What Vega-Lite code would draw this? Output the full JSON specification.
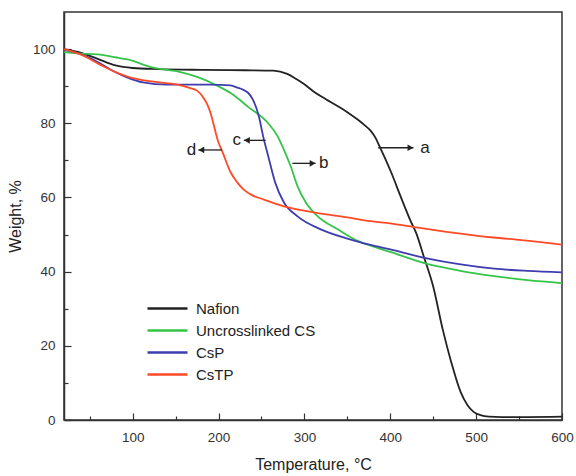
{
  "$schema": "https://vega.github.io/schema/vega-lite/v6.json",
  "width": 498,
  "height": 408,
  "autosize": {"type": "none"},
  "padding": {"left": 64, "top": 12, "right": 14, "bottom": 56},
  "background": "white",
  "config": {
    "font": "Liberation Sans",
    "view": {"stroke": "#333", "strokeWidth": 1.5},
    "axis": {"grid": false, "domainColor": "#333", "domainWidth": 1.5, "tickColor": "#333", "tickWidth": 1.2, "labelColor": "#333", "titleColor": "#222", "labelFontSize": 13.5, "titleFontSize": 16, "titleFontWeight": "normal"}
  },
  "datasets": {
    "tga": [
      {"T": 20, "W": 100, "sample": "Nafion"},
      {"T": 40, "W": 99, "sample": "Nafion"},
      {"T": 60, "W": 97.3, "sample": "Nafion"},
      {"T": 80, "W": 95.6, "sample": "Nafion"},
      {"T": 100, "W": 94.9, "sample": "Nafion"},
      {"T": 130, "W": 94.6, "sample": "Nafion"},
      {"T": 180, "W": 94.4, "sample": "Nafion"},
      {"T": 230, "W": 94.3, "sample": "Nafion"},
      {"T": 264, "W": 94.2, "sample": "Nafion"},
      {"T": 280, "W": 93.3, "sample": "Nafion"},
      {"T": 290, "W": 92, "sample": "Nafion"},
      {"T": 300, "W": 90.5, "sample": "Nafion"},
      {"T": 311, "W": 88.5, "sample": "Nafion"},
      {"T": 325, "W": 86.5, "sample": "Nafion"},
      {"T": 339, "W": 84.6, "sample": "Nafion"},
      {"T": 350, "W": 83, "sample": "Nafion"},
      {"T": 362, "W": 81, "sample": "Nafion"},
      {"T": 370, "W": 79.5, "sample": "Nafion"},
      {"T": 377, "W": 78, "sample": "Nafion"},
      {"T": 383, "W": 76, "sample": "Nafion"},
      {"T": 389, "W": 73, "sample": "Nafion"},
      {"T": 395, "W": 70, "sample": "Nafion"},
      {"T": 401, "W": 66.8, "sample": "Nafion"},
      {"T": 412, "W": 60.3, "sample": "Nafion"},
      {"T": 424, "W": 53.5, "sample": "Nafion"},
      {"T": 430, "W": 50.5, "sample": "Nafion"},
      {"T": 439, "W": 44.1, "sample": "Nafion"},
      {"T": 450, "W": 36, "sample": "Nafion"},
      {"T": 461, "W": 24.5, "sample": "Nafion"},
      {"T": 471, "W": 15.6, "sample": "Nafion"},
      {"T": 482, "W": 7.5, "sample": "Nafion"},
      {"T": 490, "W": 4, "sample": "Nafion"},
      {"T": 497, "W": 2.2, "sample": "Nafion"},
      {"T": 505, "W": 1.3, "sample": "Nafion"},
      {"T": 515, "W": 0.9, "sample": "Nafion"},
      {"T": 530, "W": 0.8, "sample": "Nafion"},
      {"T": 560, "W": 0.8, "sample": "Nafion"},
      {"T": 600, "W": 0.9, "sample": "Nafion"},
      {"T": 20, "W": 99.2, "sample": "Uncrosslinked CS"},
      {"T": 40, "W": 98.8, "sample": "Uncrosslinked CS"},
      {"T": 62, "W": 98.5, "sample": "Uncrosslinked CS"},
      {"T": 80, "W": 97.8, "sample": "Uncrosslinked CS"},
      {"T": 94, "W": 97.2, "sample": "Uncrosslinked CS"},
      {"T": 124, "W": 95, "sample": "Uncrosslinked CS"},
      {"T": 152, "W": 94, "sample": "Uncrosslinked CS"},
      {"T": 175, "W": 92.5, "sample": "Uncrosslinked CS"},
      {"T": 198, "W": 90.2, "sample": "Uncrosslinked CS"},
      {"T": 215, "W": 88, "sample": "Uncrosslinked CS"},
      {"T": 234, "W": 84.5, "sample": "Uncrosslinked CS"},
      {"T": 257, "W": 80.2, "sample": "Uncrosslinked CS"},
      {"T": 269, "W": 76.4, "sample": "Uncrosslinked CS"},
      {"T": 276, "W": 72.9, "sample": "Uncrosslinked CS"},
      {"T": 284, "W": 68.4, "sample": "Uncrosslinked CS"},
      {"T": 292, "W": 63, "sample": "Uncrosslinked CS"},
      {"T": 301.5, "W": 58.7, "sample": "Uncrosslinked CS"},
      {"T": 315.5, "W": 54.9, "sample": "Uncrosslinked CS"},
      {"T": 339, "W": 51.4, "sample": "Uncrosslinked CS"},
      {"T": 362, "W": 48.3, "sample": "Uncrosslinked CS"},
      {"T": 377, "W": 47, "sample": "Uncrosslinked CS"},
      {"T": 400, "W": 45.3, "sample": "Uncrosslinked CS"},
      {"T": 444, "W": 42, "sample": "Uncrosslinked CS"},
      {"T": 480, "W": 40.3, "sample": "Uncrosslinked CS"},
      {"T": 521, "W": 38.8, "sample": "Uncrosslinked CS"},
      {"T": 560, "W": 37.7, "sample": "Uncrosslinked CS"},
      {"T": 600, "W": 36.9, "sample": "Uncrosslinked CS"},
      {"T": 20, "W": 99.8, "sample": "CsP"},
      {"T": 35, "W": 99, "sample": "CsP"},
      {"T": 54, "W": 97.2, "sample": "CsP"},
      {"T": 74, "W": 94.5, "sample": "CsP"},
      {"T": 94, "W": 92.3, "sample": "CsP"},
      {"T": 112, "W": 91, "sample": "CsP"},
      {"T": 140, "W": 90.4, "sample": "CsP"},
      {"T": 190, "W": 90.4, "sample": "CsP"},
      {"T": 214, "W": 90.2, "sample": "CsP"},
      {"T": 222, "W": 89.6, "sample": "CsP"},
      {"T": 229, "W": 89, "sample": "CsP"},
      {"T": 234, "W": 88.3, "sample": "CsP"},
      {"T": 240, "W": 86.4, "sample": "CsP"},
      {"T": 247, "W": 81.8, "sample": "CsP"},
      {"T": 252, "W": 76.4, "sample": "CsP"},
      {"T": 258, "W": 71, "sample": "CsP"},
      {"T": 266, "W": 64, "sample": "CsP"},
      {"T": 276, "W": 58.7, "sample": "CsP"},
      {"T": 292, "W": 54.9, "sample": "CsP"},
      {"T": 319, "W": 51.4, "sample": "CsP"},
      {"T": 350, "W": 48.9, "sample": "CsP"},
      {"T": 377, "W": 47.2, "sample": "CsP"},
      {"T": 400, "W": 46, "sample": "CsP"},
      {"T": 444, "W": 43.5, "sample": "CsP"},
      {"T": 480, "W": 42, "sample": "CsP"},
      {"T": 521, "W": 40.8, "sample": "CsP"},
      {"T": 560, "W": 40.2, "sample": "CsP"},
      {"T": 600, "W": 39.8, "sample": "CsP"},
      {"T": 20, "W": 100, "sample": "CsTP"},
      {"T": 40, "W": 98.5, "sample": "CsTP"},
      {"T": 62, "W": 95.8, "sample": "CsTP"},
      {"T": 80, "W": 93.8, "sample": "CsTP"},
      {"T": 94, "W": 92.6, "sample": "CsTP"},
      {"T": 124, "W": 91.2, "sample": "CsTP"},
      {"T": 152, "W": 90.4, "sample": "CsTP"},
      {"T": 165, "W": 89.6, "sample": "CsTP"},
      {"T": 175, "W": 88.8, "sample": "CsTP"},
      {"T": 182, "W": 87, "sample": "CsTP"},
      {"T": 187, "W": 85, "sample": "CsTP"},
      {"T": 191, "W": 82.5, "sample": "CsTP"},
      {"T": 195, "W": 79, "sample": "CsTP"},
      {"T": 199, "W": 75.5, "sample": "CsTP"},
      {"T": 205, "W": 72, "sample": "CsTP"},
      {"T": 214, "W": 66.8, "sample": "CsTP"},
      {"T": 222, "W": 64, "sample": "CsTP"},
      {"T": 229, "W": 62.2, "sample": "CsTP"},
      {"T": 240, "W": 60.5, "sample": "CsTP"},
      {"T": 252, "W": 59.5, "sample": "CsTP"},
      {"T": 276, "W": 57.6, "sample": "CsTP"},
      {"T": 311, "W": 56, "sample": "CsTP"},
      {"T": 350, "W": 54.6, "sample": "CsTP"},
      {"T": 377, "W": 53.6, "sample": "CsTP"},
      {"T": 400, "W": 53, "sample": "CsTP"},
      {"T": 428, "W": 52, "sample": "CsTP"},
      {"T": 470, "W": 50.6, "sample": "CsTP"},
      {"T": 520, "W": 49.2, "sample": "CsTP"},
      {"T": 553, "W": 48.5, "sample": "CsTP"},
      {"T": 600, "W": 47.3, "sample": "CsTP"}
    ],
    "arrows": [
      {"x1": 386, "x2": 427, "y": 73.4, "dir": "right", "label": "a", "lx": 435},
      {"x1": 286, "x2": 313, "y": 69.2, "dir": "right", "label": "b", "lx": 317},
      {"x1": 254.8, "x2": 229.5, "y": 75.4, "dir": "left", "label": "c", "lx": 226},
      {"x1": 204, "x2": 176.5, "y": 72.8, "dir": "left", "label": "d", "lx": 174}
    ]
  },
  "layer": [
    {
      "data": {"name": "tga"},
      "mark": {"type": "line", "interpolate": "monotone", "strokeWidth": 1.8},
      "encoding": {
        "x": {
          "field": "T", "type": "quantitative",
          "scale": {"domain": [20, 600], "nice": false, "zero": false},
          "axis": {
            "title": "Temperature, °C",
            "values": [50, 100, 150, 200, 250, 300, 350, 400, 450, 500, 550, 600],
            "labelExpr": "datum.value % 100 === 0 ? datum.label : ''",
            "tickSize": {"condition": {"test": "datum.value % 100 === 0", "value": -7}, "value": -4},
            "labelPadding": 17,
            "titlePadding": 13,
            "labelFlush": false
          }
        },
        "y": {
          "field": "W", "type": "quantitative",
          "scale": {"domain": [0, 110], "nice": false},
          "axis": {
            "title": "Weight, %",
            "values": [0, 10, 20, 30, 40, 50, 60, 70, 80, 90, 100],
            "labelExpr": "datum.value % 20 === 0 ? datum.label : ''",
            "tickSize": {"condition": {"test": "datum.value % 20 === 0", "value": -7}, "value": -4},
            "labelPadding": 16,
            "titlePadding": 9
          }
        },
        "color": {
          "field": "sample", "type": "nominal",
          "scale": {"domain": ["Nafion", "Uncrosslinked CS", "CsP", "CsTP"], "range": ["#222222", "#35c44a", "#3d3db0", "#ff4a26"]},
          "legend": {
            "title": null, "orient": "none", "legendX": 94, "legendY": 287,
            "symbolType": "M-2.5,0L2.5,0", "symbolSize": 256, "symbolStrokeWidth": 2.5,
            "labelFontSize": 15, "labelColor": "#222", "rowPadding": 4, "labelOffset": 19
          }
        }
      }
    },
    {
      "data": {"name": "arrows"},
      "mark": {"type": "rule", "color": "#222", "strokeWidth": 1.3},
      "encoding": {
        "x": {"field": "x1", "type": "quantitative"},
        "x2": {"field": "x2"},
        "y": {"field": "y", "type": "quantitative"}
      }
    },
    {
      "data": {"name": "arrows"},
      "transform": [{"filter": "datum.dir === 'right'"}],
      "mark": {"type": "point", "shape": "triangle-right", "filled": true, "color": "#222", "size": 45, "opacity": 1, "xOffset": -3},
      "encoding": {
        "x": {"field": "x2", "type": "quantitative"},
        "y": {"field": "y", "type": "quantitative"}
      }
    },
    {
      "data": {"name": "arrows"},
      "transform": [{"filter": "datum.dir === 'left'"}],
      "mark": {"type": "point", "shape": "triangle-left", "filled": true, "color": "#222", "size": 45, "opacity": 1, "xOffset": 3},
      "encoding": {
        "x": {"field": "x2", "type": "quantitative"},
        "y": {"field": "y", "type": "quantitative"}
      }
    },
    {
      "data": {"name": "arrows"},
      "transform": [{"filter": "datum.dir === 'right'"}],
      "mark": {"type": "text", "align": "left", "baseline": "middle", "fontSize": 17, "color": "#222"},
      "encoding": {
        "x": {"field": "lx", "type": "quantitative"},
        "y": {"field": "y", "type": "quantitative"},
        "text": {"field": "label"}
      }
    },
    {
      "data": {"name": "arrows"},
      "transform": [{"filter": "datum.dir === 'left'"}],
      "mark": {"type": "text", "align": "right", "baseline": "middle", "fontSize": 17, "color": "#222"},
      "encoding": {
        "x": {"field": "lx", "type": "quantitative"},
        "y": {"field": "y", "type": "quantitative"},
        "text": {"field": "label"}
      }
    }
  ]
}
